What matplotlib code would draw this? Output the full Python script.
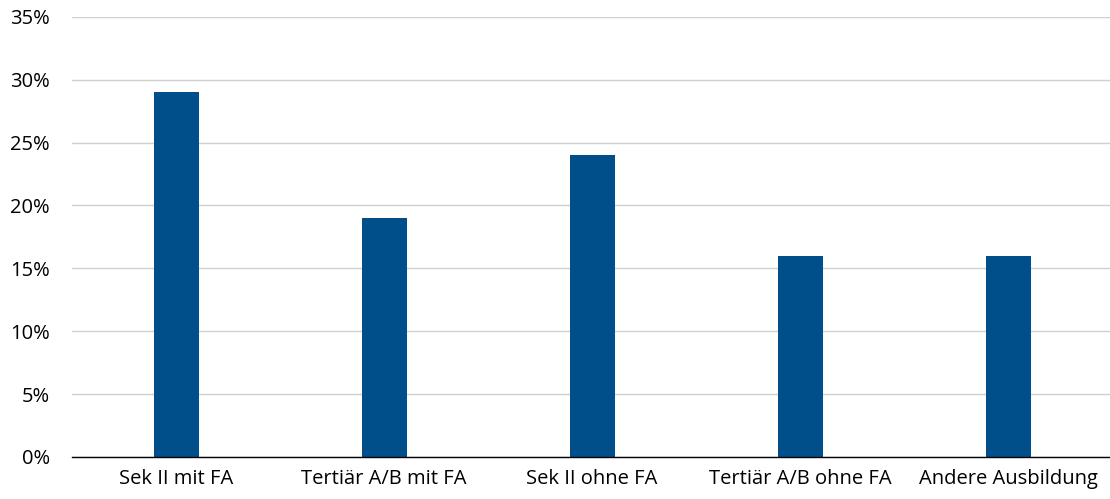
import matplotlib
matplotlib.use('Agg')
import matplotlib.pyplot as plt
from matplotlib.ticker import PercentFormatter

categories = ['Sek II mit FA', 'Tertiär A/B mit FA', 'Sek II ohne FA',
              'Tertiär A/B ohne FA', 'Andere Ausbildung']
values = [29, 19, 24, 16, 16]
yticks = [0, 5, 10, 15, 20, 25, 30, 35]

plt.rcParams['font.family'] = ['Open Sans', 'DejaVu Sans']

fig = plt.figure(figsize=(11.1, 4.99), dpi=100)
ax = fig.add_axes([0.065, 0.0842, 0.937, 0.8823])

x = range(len(categories))
ax.bar(x, values, width=0.216, color='#004f8b', zorder=3)

ax.set_xlim(-0.5, len(categories) - 0.5)
ax.set_ylim(0, 35)
ax.set_yticks(yticks)
ax.yaxis.set_major_formatter(PercentFormatter(decimals=0))
ax.set_xticks(list(x))
ax.set_xticklabels(categories)
ax.tick_params(axis='both', length=0, labelsize=14.5, colors='#000000')
ax.tick_params(axis='y', pad=16)
ax.tick_params(axis='x', pad=9)

ax.grid(axis='y', color='#d0d0d0', linewidth=1, zorder=0)
for s in ['top', 'right', 'left']:
    ax.spines[s].set_visible(False)
ax.spines['bottom'].set_color('#000000')
ax.spines['bottom'].set_linewidth(1)
ax.spines['bottom'].set_zorder(4)

fig.savefig('out.png', dpi=100)
